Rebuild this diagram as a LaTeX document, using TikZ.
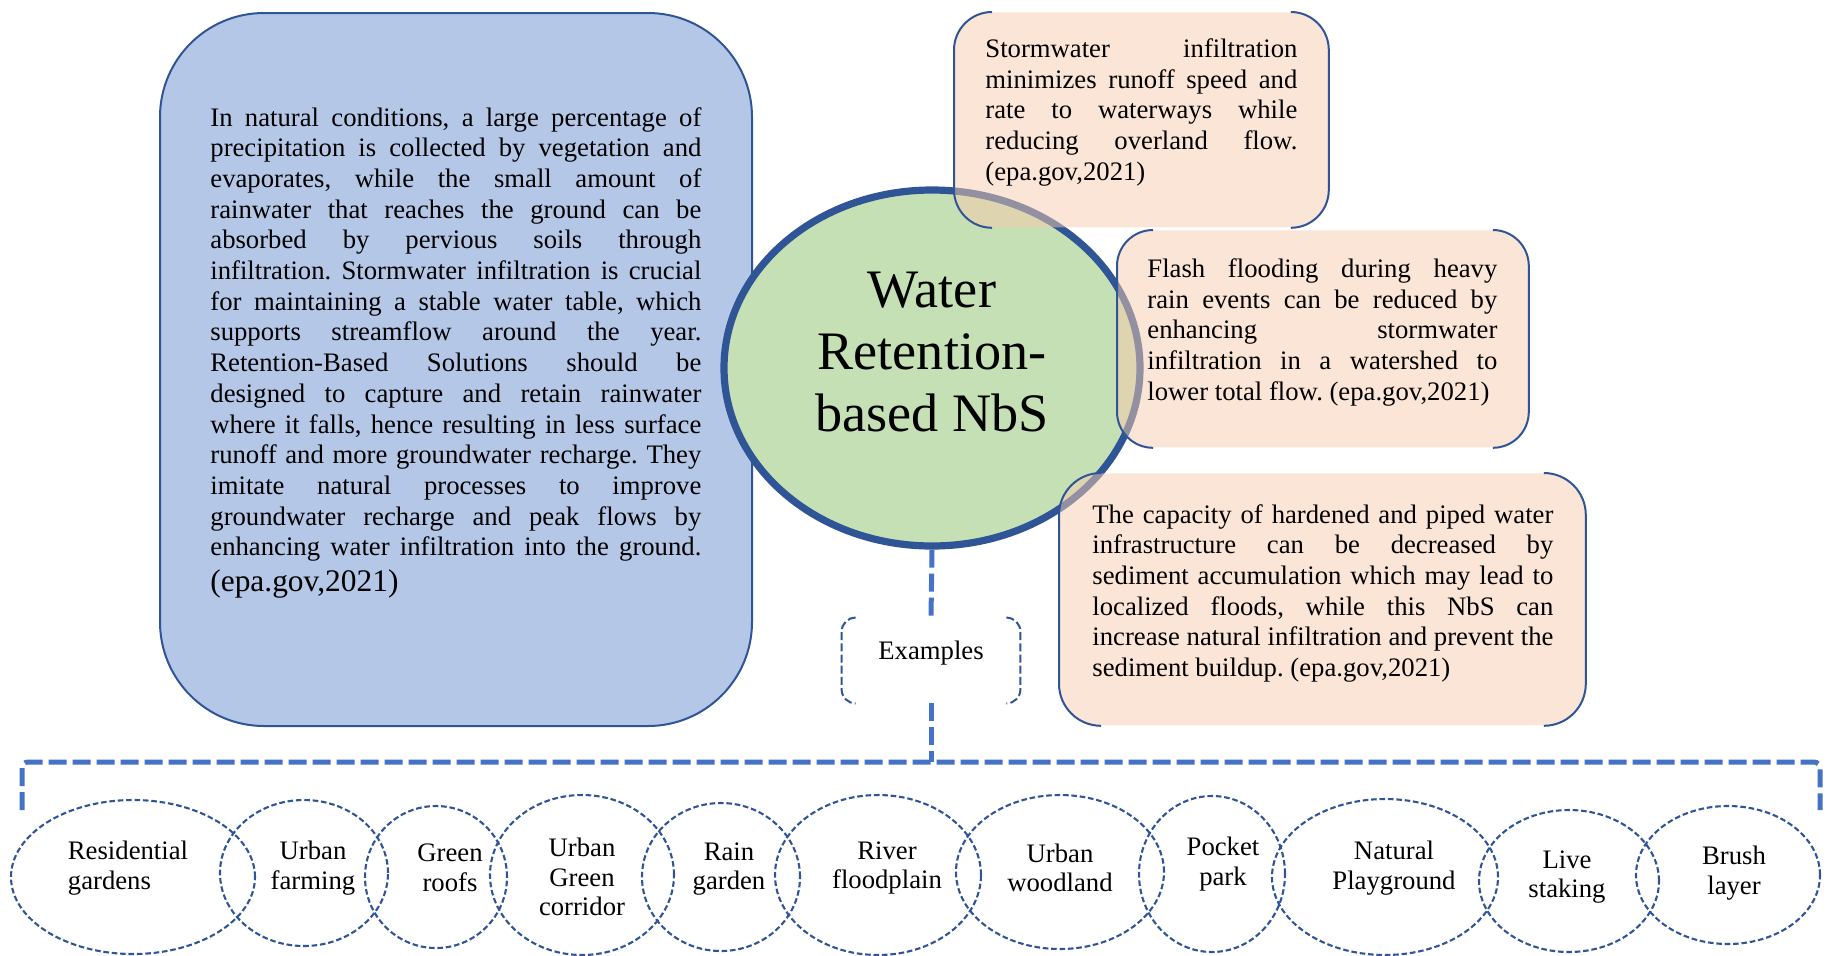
\documentclass[tikz,border=0pt]{standalone}
\usepackage{fontspec}
\setmainfont{Liberation Serif}
\usetikzlibrary{shapes.geometric}
\definecolor{dkblue}{HTML}{2F5597}
\definecolor{medblue}{HTML}{4472C4}
\definecolor{boxblue}{HTML}{B4C7E7}
\definecolor{ellgreen}{HTML}{C5E0B4}
\definecolor{peach}{HTML}{F8CBAD}
\newcommand\sidebrackets[3][]{%
  \draw[#1, rounded corners=#3] ([xshift=#3]#2.north west) -- (#2.north west) -- (#2.south west) -- ([xshift=#3]#2.south west);
  \draw[#1, rounded corners=#3] ([xshift=-#3]#2.north east) -- (#2.north east) -- (#2.south east) -- ([xshift=-#3]#2.south east);}
\newcommand\fullline[1]{\makebox[\hsize][s]{\spaceskip=0pt\relax\xspaceskip=0pt\relax #1}}
\newcommand\jl[1]{\fullline{#1}\\}
\newcommand\natsp{\spaceskip=0pt\relax\xspaceskip=0pt\relax}
\begin{document}
\frenchspacing
\begin{tikzpicture}[x=0.5pt,y=-0.5pt,
  shapebox/.style={rectangle, inner sep=0pt, anchor=north west},
  infobox/.style={shapebox, fill=peach, fill opacity=0.5, draw=none},
  bodytext/.style={inner sep=0pt, anchor=base west, align=left, text opacity=1,
    font=\fontsize{13.35}{15.35}\selectfont},
  conn/.style={draw=medblue, line width=2.5pt, dash pattern=on 9pt off 3pt},
  exell/.style={ellipse, draw=dkblue, line width=1.05pt, dash pattern=on 2.8pt off 1.4pt, inner sep=0pt},
  lbl/.style={align=center, inner sep=0pt, font=\fontsize{13.35}{14.8}\selectfont}]
\useasboundingbox (0,0) rectangle (1832,955);

% left box
\node[shapebox, fill=boxblue, draw=dkblue, line width=1pt, rounded corners=52pt,
  minimum width=296pt, minimum height=356.5pt] (lbox) at (159,12) {};
\node[bodytext, text width=245.5pt] (ltext) at (210,126) {%
\jl{In natural conditions, a large percentage of}
\jl{precipitation is collected by vegetation and}
\jl{evaporates, while the small amount of}
\jl{rainwater that reaches the ground can be}
\jl{absorbed by pervious soils through}
\jl{infiltration. Stormwater infiltration is crucial}
\jl{for maintaining a stable water table, which}
\jl{supports streamflow around the year.}
\jl{Retention-Based Solutions should be}
\jl{designed to capture and retain rainwater}
\jl{where it falls, hence resulting in less surface}
\jl{runoff and more groundwater recharge. They}
\jl{imitate natural processes to improve}
\jl{groundwater recharge and peak flows by}
\fullline{enhancing water infiltration into the ground.}\par
{\fontsize{15.7}{18}\selectfont (epa.gov,2021)\par}};

% central ellipse
\node[ellipse, fill=ellgreen, draw=dkblue, line width=3.6pt, inner sep=0pt,
  minimum width=208pt, minimum height=178pt] (ell) at (932,368) {};
\node[align=center, inner sep=0pt, font=\fontsize{27.1}{31.2}\selectfont] (title) at (932,352)
  {Water\\Retention-\\\natsp based NbS};

% right boxes
\node[infobox, rounded corners=19pt, minimum width=187pt, minimum height=107.5pt] (b1) at (954,12) {};
\node[infobox, rounded corners=18pt, minimum width=205.5pt, minimum height=108.5pt] (b2) at (1117,230) {};
\node[infobox, rounded corners=21pt, minimum width=263pt, minimum height=126pt] (b3) at (1059,473) {};
\sidebrackets[draw=dkblue, line width=1pt]{b1}{19pt}
\sidebrackets[draw=dkblue, line width=1pt]{b2}{18pt}
\sidebrackets[draw=dkblue, line width=1pt]{b3}{21pt}

\node[bodytext, text width=156pt] (t1) at (985,57.5) {%
\jl{Stormwater infiltration}
\jl{minimizes runoff speed and}
\jl{rate to waterways while}
\jl{reducing overland flow.}
(epa.gov,2021)};
\node[bodytext, text width=175pt] (t2) at (1147,277.5) {%
\jl{Flash flooding during heavy}
\jl{rain events can be reduced by}
\jl{enhancing stormwater}
\jl{infiltration in a watershed to}
\natsp lower total flow. (epa.gov,2021)};
\node[bodytext, text width=230.5pt] (t3) at (1092,523) {%
\jl{The capacity of hardened and piped water}
\jl{infrastructure can be decreased by}
\jl{sediment accumulation which may lead to}
\jl{localized floods, while this NbS can}
\jl{increase natural infiltration and prevent the}
\natsp sediment buildup. (epa.gov,2021)};

% examples box
\node[rectangle, inner sep=0pt, minimum width=89pt, minimum height=42.5pt] (ex) at (931,660.5) {};
\sidebrackets[draw=dkblue, line width=1pt, dash pattern=on 4pt off 1.6pt]{ex}{7pt}
\node[lbl] (exl) at (931,653) {Examples};

% connectors
\coordinate (bl) at (22,810);
\coordinate (tl) at (22,762);
\coordinate (tr) at (1820,762);
\coordinate (br) at (1820,810);
\draw[conn] (ell.south) -- (ex.north);
\draw[conn] (ex.south) -- (ex.south |- tl);
\draw[conn, rounded corners=3pt] (bl) -- (tl) -- (tr) -- (br);

% example ellipses
\node[exell, minimum width=122pt, minimum height=77pt] (e1) at (133,877) {};
\node[exell, minimum width=84pt, minimum height=73pt] (e2) at (304,873) {};
\node[exell, minimum width=71pt, minimum height=71pt] (e3) at (436,877) {};
\node[exell, minimum width=92pt, minimum height=80pt] (e4) at (582,875) {};
\node[exell, minimum width=79pt, minimum height=74pt] (e5) at (721,877) {};
\node[exell, minimum width=103pt, minimum height=80pt] (e6) at (878,875) {};
\node[exell, minimum width=104pt, minimum height=77pt] (e7) at (1060,872) {};
\node[exell, minimum width=73pt, minimum height=78pt] (e8) at (1212,874) {};
\node[exell, minimum width=113pt, minimum height=78pt] (e9) at (1385,877) {};
\node[exell, minimum width=90pt, minimum height=71pt] (e10) at (1569,881) {};
\node[exell, minimum width=92pt, minimum height=69pt] (e11) at (1728,875) {};

\node[lbl, align=left] (l1) at (128,868) {Residential\\gardens};
\node[lbl] (l2) at (313,868) {Urban\\farming};
\node[lbl] (l3) at (450,868) {Green\\roofs};
\node[lbl] (l4) at (582,877) {Urban\\Green\\corridor};
\node[lbl] (l5) at (729,869) {Rain\\garden};
\node[lbl] (l6) at (887,868) {River\\floodplain};
\node[lbl] (l7) at (1060,868) {Urban\\woodland};
\node[lbl] (l8) at (1223,864) {Pocket\\park};
\node[lbl] (l9) at (1394,868) {Natural\\Playground};
\node[lbl] (l10) at (1567,877) {Live\\staking};
\node[lbl] (l11) at (1734,873) {Brush\\layer};
\end{tikzpicture}
\end{document}
